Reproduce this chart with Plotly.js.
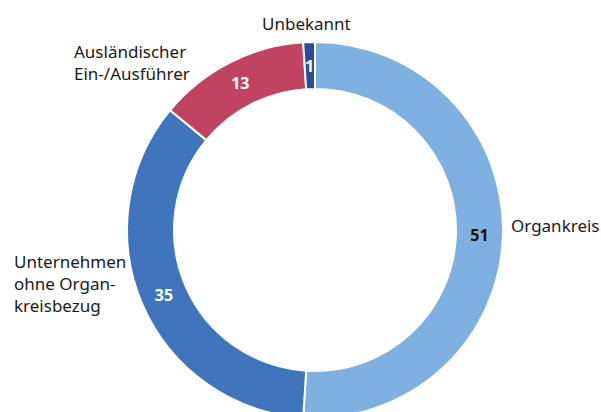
<!DOCTYPE html>
<html><head><meta charset="utf-8">
<script src="https://cdn.plot.ly/plotly-3.0.1.min.js"></script>
<style>html,body{margin:0;padding:0;overflow:hidden;background:#fff;width:601px;height:412px}</style>
</head><body>
<div id="chart" style="width:601px;height:430px"></div>
<script>
const categories = ["Organkreis", "Unternehmen ohne Organkreisbezug", "Ausländischer Ein-/Ausführer", "Unbekannt"];
const values = [51, 35, 13, 1];
const colors = ["#7FB1E0", "#3E75BD", "#C0445F", "#2C4A9A"];
const textColors = ["#111111", "#ffffff", "#ffffff", "#ffffff"];
const outsideLabels = ["Organkreis", "Unternehmen<br>ohne Organ-<br>kreisbezug", "Ausländischer<br>Ein-/Ausführer", "Unbekannt"];

const FONT = "Noto Sans, Open Sans, sans-serif";
const HOLE = 0.75;
// slices too thin for plotly's inside placement get a value label at the ring's mid radius
const thin = values.map(v => v / values.reduce((a, b) => a + b, 0) < 0.03);
const trace = {
  type: "pie",
  labels: categories,
  values: values,
  hole: HOLE,
  sort: false,
  direction: "clockwise",
  rotation: 0,
  marker: {colors: colors, line: {color: "#ffffff", width: 2}},
  textinfo: "value",
  textposition: thin.map(t => t ? "none" : "inside"),
  insidetextorientation: "horizontal",
  insidetextfont: {family: FONT, size: 16, color: textColors, weight: 700},
  hoverinfo: "label+value",
  showlegend: false
};
const W = 601, H = 430;
const m = {l: 127, r: 98, t: 42, b: 12};
const pw = W - m.l - m.r, ph = H - m.t - m.b;
function px(x){ return (x - m.l) / pw; }
function py(y){ return 1 - (y - m.t) / ph; }
const annFont = {family: FONT, size: 17, color: "#1a1a1a"};
const annotations = [
  {text: outsideLabels[0], x: px(509), y: py(226), xanchor: "left", yanchor: "middle", align: "left"},
  {text: outsideLabels[1], x: px(12), y: py(283), xanchor: "left", yanchor: "middle", align: "left"},
  {text: outsideLabels[2], x: px(72), y: py(62), xanchor: "left", yanchor: "middle", align: "left"},
  {text: outsideLabels[3], x: px(306), y: py(23), xanchor: "center", yanchor: "middle", align: "center"}
].map(a => Object.assign(a, {xref: "paper", yref: "paper", showarrow: false, font: annFont}));

// value labels for thin slices, placed from the data's cumulative angle
const total = values.reduce((a, b) => a + b, 0);
let cum = 0;
values.forEach((v, i) => {
  const mid = (cum + v / 2) / total * 2 * Math.PI;
  cum += v;
  if (!thin[i]) return;
  const rMid = (1 + HOLE) / 2 * 0.5; // in domain fraction of side
  annotations.push({
    text: "<b>" + v + "</b>", xref: "paper", yref: "paper", showarrow: false,
    x: 0.5 + rMid * Math.sin(mid), y: 0.5 + rMid * Math.cos(mid),
    xanchor: "center", yanchor: "middle",
    font: {family: FONT, size: 16, color: textColors[i]}
  });
});

Plotly.newPlot("chart", [trace], {
  width: W, height: H,
  margin: m,
  paper_bgcolor: "#fff",
  annotations: annotations,
  font: {family: FONT}
}, {displayModeBar: false, staticPlot: true});
</script>
</body></html>
